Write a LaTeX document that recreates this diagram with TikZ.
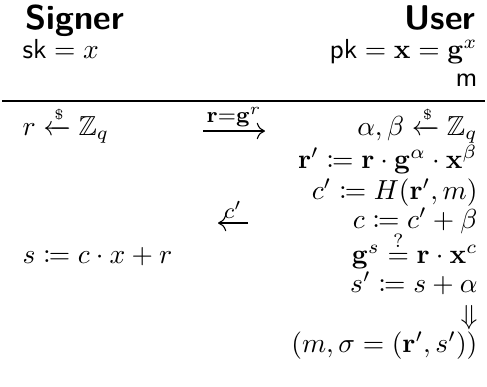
\documentclass[tikz,border=0pt]{standalone}
\usepackage{amsmath,amssymb,mathtools}
\usetikzlibrary{arrows.meta}
\begin{document}
\begin{tikzpicture}[x=0.3636pt,y=-0.3636pt,
  lcol/.style={anchor=base west,inner sep=0pt},
  rcol/.style={anchor=base east,inner sep=0pt},
  hdr/.style={font=\fontsize{12.5}{15}\selectfont\sffamily\bfseries},
  msg/.style={-{To[length=3pt,width=6pt]},line width=0.4pt},
  lbl/.style={inner sep=1.5pt,font=\footnotesize}]
\useasboundingbox (0,0) rectangle (487,386);
\node[lcol,hdr] (signer) at (25,29) {Signer};
\node[rcol,hdr] (user) at (476,29) {User};
\node[lcol] (sk) at (22,58) {$\mathsf{sk}=x$};
\node[rcol] (pk) at (478,58) {$\mathsf{pk}=\mathbf{x}=\mathbf{g}^x$};
\node[rcol] (msg) at (478,86) {$\mathsf{m}$};
\coordinate (ruleL) at (2,101);
\coordinate (ruleR) at (485,101);
\draw[line width=0.4pt] (ruleL) -- (ruleR);
\node[lcol] (rsamp) at (22,135) {$r \xleftarrow{\scriptscriptstyle\$} \mathbb{Z}_q$};
\node[rcol] (absamp) at (478,135) {$\alpha,\beta \xleftarrow{\scriptscriptstyle\$} \mathbb{Z}_q$};
\node[rcol] (rprime) at (478,168) {$\mathbf{r}' \coloneqq \mathbf{r}\cdot\mathbf{g}^{\alpha}\cdot\mathbf{x}^{\beta}$};
\node[rcol] (cprime) at (478,199) {$c' \coloneqq H(\mathbf{r}',m)$};
\node[rcol] (cdef) at (478,228) {$c \coloneqq c' + \beta$};
\node[lcol] (sdef) at (22,263) {$s \coloneqq c\cdot x + r$};
\node[rcol] (check) at (478,263) {$\mathbf{g}^s \stackrel{?}{=} \mathbf{r}\cdot\mathbf{x}^c$};
\node[rcol] (sprime) at (478,292) {$s' \coloneqq s + \alpha$};
\node[rcol] (implies) at (478,324) {$\Downarrow$};
\node[rcol] (sig) at (478,352) {$(m,\sigma=(\mathbf{r}',s'))$};
\coordinate (m1s) at (203,131);
\coordinate (m1e) at (265,131);
\draw[msg] (m1s) -- (m1e) node[midway,above,lbl] {$\mathbf{r}{=}\mathbf{g}^r$};
\coordinate (m2s) at (248,223);
\coordinate (m2e) at (218,223);
\draw[msg] (m2s) -- (m2e) node[midway,above,lbl] {$c'$};
\end{tikzpicture}
\end{document}
